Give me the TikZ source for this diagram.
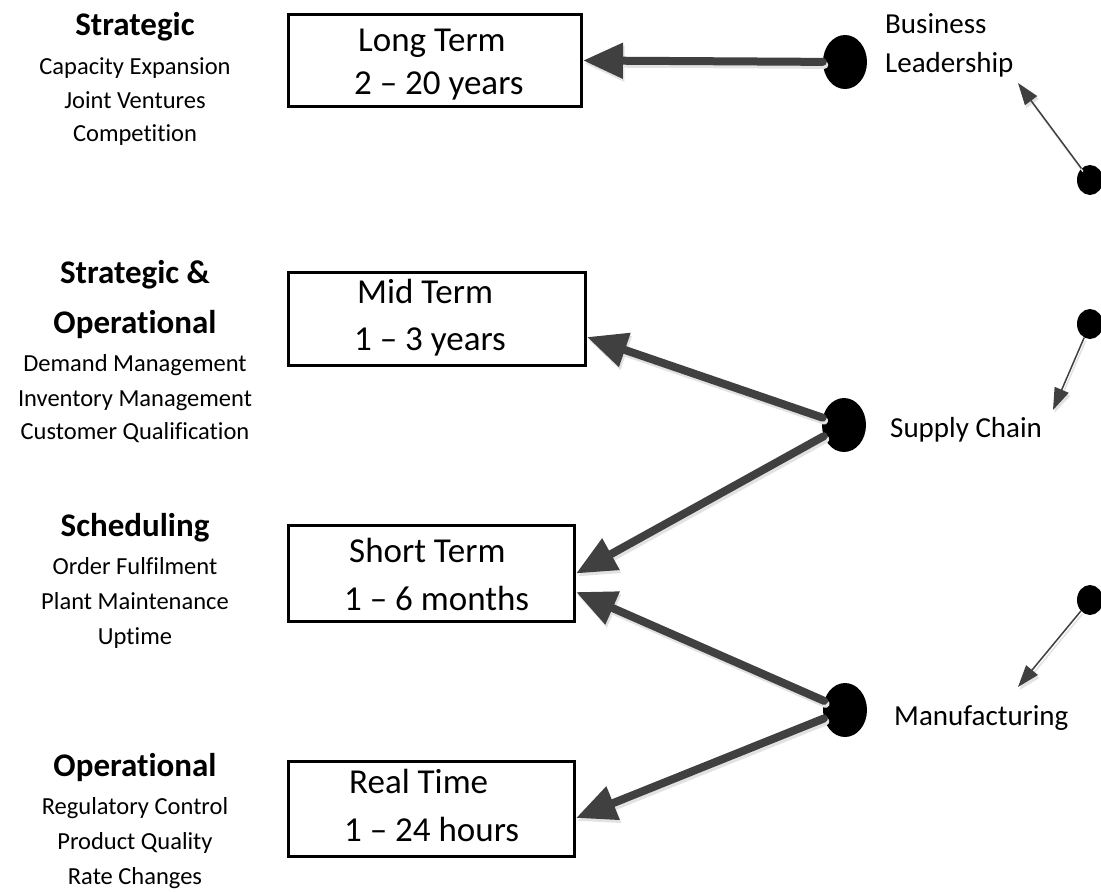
\documentclass[tikz,border=0pt]{standalone}
\usepackage{fontspec}
\setmainfont{Carlito}[Ligatures=NoCommon]
\usetikzlibrary{arrows.meta,shapes.geometric,calc}
\definecolor{arrowgray}{HTML}{404040}
\definecolor{shadegray}{HTML}{E2E2E2}

% a connector drawn twice: a pale offset copy underneath, then the dark line
\newcommand\flowline[3]{%
  \draw[#1, shadegray, transform canvas={shift={(1.5pt,-3pt)}}] #2 -- #3;
  \draw[#1, arrowgray] #2 -- #3;}

\begin{document}
\begin{tikzpicture}[x=1pt,y=-1pt,
  termbox/.style={draw=black, line width=3pt, inner sep=0pt, rectangle},
  bigdot/.style={ellipse, fill=black, inner sep=0pt, minimum width=44pt, minimum height=54pt},
  smalldot/.style={ellipse, fill=black, inner sep=0pt, minimum width=26pt, minimum height=30pt},
  heading/.style={anchor=base, inner sep=0pt, font=\fontsize{33}{40}\selectfont\bfseries},
  item/.style={anchor=base, inner sep=0pt, font=\fontsize{24.5}{30}\selectfont},
  termtext/.style={anchor=base west, inner sep=0pt, font=\fontsize{35}{42}\selectfont},
  unitlabel/.style={anchor=base west, inner sep=0pt, font=\fontsize{29}{35}\selectfont},
  widearrow/.style={line width=8pt, line cap=round, -{Triangle[length=40pt,width=34pt]}},
  thinarrow/.style={line width=1.5pt, -{Triangle[length=22pt,width=15pt]}}]

\clip (0,0) rectangle (1101,892);
\fill[white] (0,0) rectangle (1101,892);

% horizon boxes
\node[termbox, minimum width=293pt, minimum height=92pt] (lt) at (435,60.5) {};
\node[termbox, minimum width=297pt, minimum height=93pt] (mt) at (437,319) {};
\node[termbox, minimum width=286pt, minimum height=96pt] (st) at (431.5,573.5) {};
\node[termbox, minimum width=286pt, minimum height=95pt] (rt) at (431.5,809) {};

\node[termtext] (lt1) at (358,51) {Long Term};
\node[termtext] (lt2) at (354,94) {2 – 20 years};
\node[termtext] (mt1) at (357,303) {Mid Term};
\node[termtext] (mt2) at (354,350) {1 – 3 years};
\node[termtext] (st1) at (349,562) {Short Term};
\node[termtext] (st2) at (344,610) {1 – 6 months};
\node[termtext] (rt1) at (349,793) {Real Time};
\node[termtext] (rt2) at (344,841) {1 – 24 hours};

% left column: planning levels
\node[heading] (a0) at (135,35) {Strategic};
\node[item] (a1) at (135,74) {Capacity Expansion};
\node[item] (a2) at (135,108) {Joint Ventures};
\node[item] (a3) at (135,141) {Competition};

\node[heading] (b0) at (135,283) {Strategic \&};
\node[heading] (b1) at (135,333) {Operational};
\node[item] (b2) at (135,371) {Demand Management};
\node[item] (b3) at (135,406) {Inventory Management};
\node[item] (b4) at (135,439) {Customer Qualification};

\node[heading] (c0) at (135,536) {Scheduling};
\node[item] (c1) at (135,574) {Order Fulfilment};
\node[item] (c2) at (135,609) {Plant Maintenance};
\node[item] (c3) at (135,644) {Uptime};

\node[heading] (d0) at (135,776) {Operational};
\node[item] (d1) at (135,814) {Regulatory Control};
\node[item] (d2) at (135,849) {Product Quality};
\node[item] (d3) at (135,884) {Rate Changes};

% organisation levels
\node[bigdot] (bl) at (845,62) {};
\node[bigdot] (sc) at (844,425) {};
\node[bigdot] (mf) at (845,710) {};

\node[unitlabel] (bl1) at (885,33) {Business};
\node[unitlabel] (bl2) at (885,72) {Leadership};
\node[unitlabel] (sc1) at (890,437) {Supply Chain};
\node[unitlabel] (mf1) at (894,725) {Manufacturing};

\node[smalldot] (p1) at (1090,180) {};
\node[smalldot] (p2) at (1090,324) {};
\node[smalldot] (p3) at (1090,600) {};

\coordinate (q1) at (1018,83);
\coordinate (q2) at (1053,410);
\coordinate (q3) at (1018,687);

% wide connectors into the boxes
\flowline{widearrow}{(bl)}{(lt.east)}
\flowline{widearrow}{(sc)}{([yshift=-18pt]mt.east)}
\flowline{widearrow}{(sc)}{(st.east)}
\flowline{widearrow}{(mf)}{([yshift=-18.5pt]st.east)}
\flowline{widearrow}{(mf)}{([yshift=-9pt]rt.east)}

% thin connectors from the small dots
\flowline{thinarrow}{(p1)}{(q1)}
\flowline{thinarrow}{(p2)}{(q2)}
\flowline{thinarrow}{(p3)}{(q3)}

\end{tikzpicture}
\end{document}
